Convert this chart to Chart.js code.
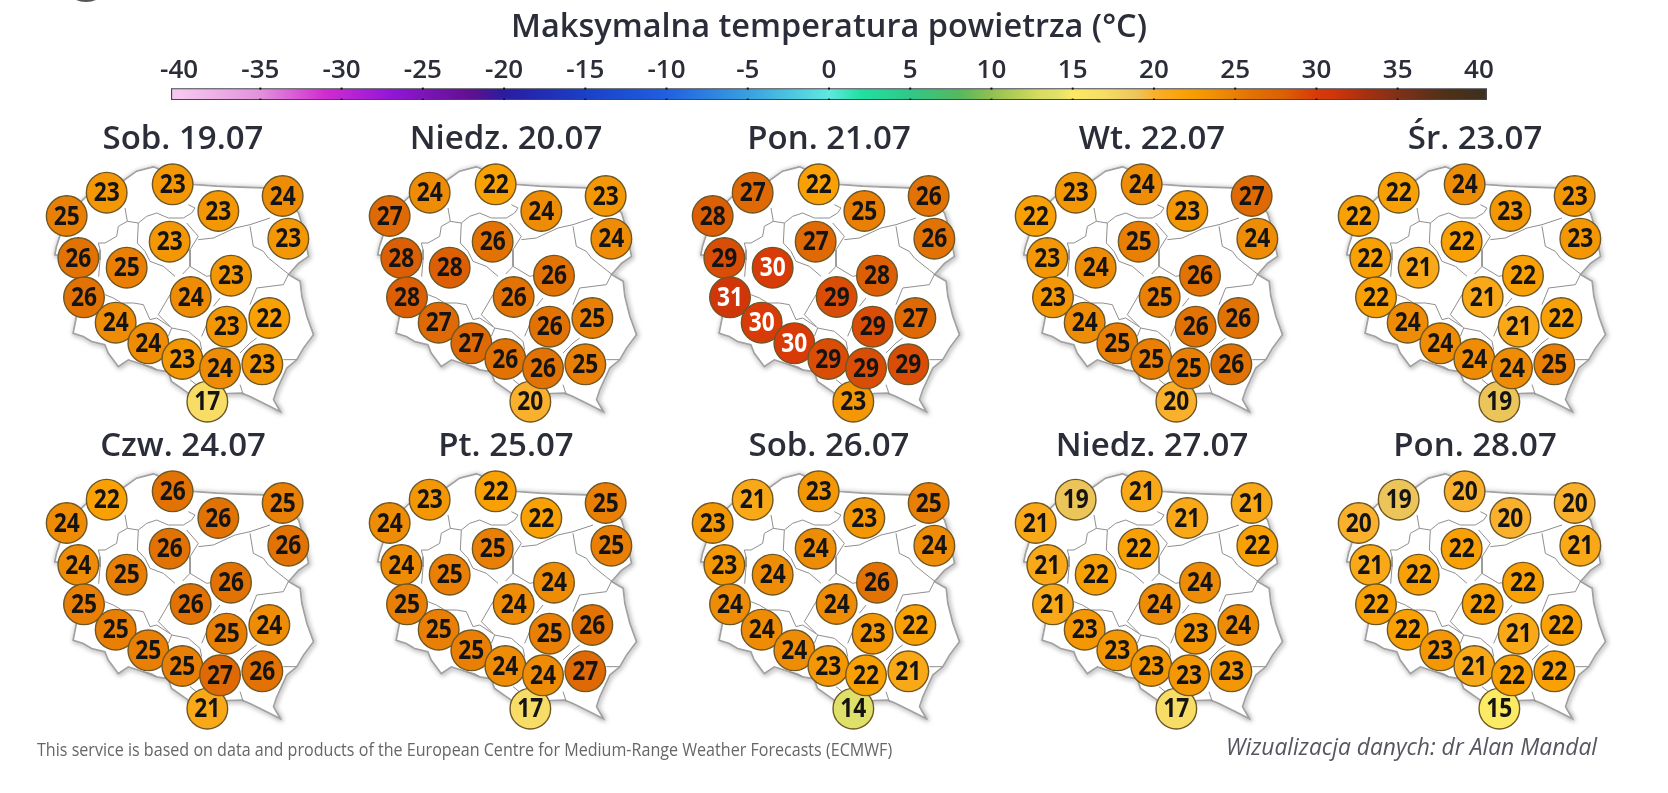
<!DOCTYPE html>
<html lang="pl">
<head>
<meta charset="utf-8">
<title>Maksymalna temperatura powietrza</title>
<script src="https://cdn.jsdelivr.net/npm/chart.js@4/dist/chart.umd.min.js"></script>
<style>
  html, body { margin: 0; padding: 0; background: #fff; overflow: hidden; }
  #page { position: relative; width: 1668px; height: 793px; overflow: hidden; }
  canvas { position: absolute; }
  .logo-stub { position: absolute; left: 72px; top: -12px; width: 28px; height: 14px; border-radius: 50%; background: #555; filter: blur(0.7px); }
  .note { position: absolute; white-space: nowrap; font-family: "Open Sans", sans-serif; transform-origin: left center; }
  #source { left: 37px; top: 736px; font-size: 18px; line-height: 26px; color: #666; transform: scaleX(0.894); }
  #author { left: 1226px; top: 729px; font-size: 24px; line-height: 34px; font-style: italic; color: #55565f; transform: scaleX(0.95); }
</style>
</head>
<body>
<div id="page">
  <div class="logo-stub"></div>
  <canvas id="scaleBar" width="1668" height="100" style="left:0;top:0"></canvas>
  <div id="source" class="note">This service is based on data and products of the European Centre for Medium-Range Weather Forecasts (ECMWF)</div>
  <div id="author" class="note">Wizualizacja danych: dr Alan Mandal</div>
</div>
<script>
const chartTitle = 'Maksymalna temperatura powietrza (°C)';
const scaleTicks = [-40, -35, -30, -25, -20, -15, -10, -5, 0, 5, 10, 15, 20, 25, 30, 35, 40];

// Colour scale of the legend, also used for the station circles
const stopTemps = [-40, -35, -31, -27, -22, -20, -15, -10, -5, 0, 2, 5, 8, 10, 13, 14, 15, 17, 19, 20, 22, 24, 26, 28, 30, 31, 33, 35, 38, 40];
const stopColors = ['#f6c8f0', '#e391dc', '#d02cd0', '#9416d8', '#5f1090', '#2a1ca0', '#1a40c8', '#2060e0', '#38a0e0', '#60e8e0', '#20e0a0', '#30c888', '#55b860', '#90c050', '#d8dc60', '#dfe06a', '#fbea63', '#f7dc66', '#ecc55a', '#f9b02c', '#f9a104', '#ef8c06', '#e27204', '#dc5f05', '#d83a08', '#d0360a', '#a83010', '#803018', '#503018', '#403020'];

const dayTitles = ['Sob. 19.07', 'Niedz. 20.07', 'Pon. 21.07', 'Wt. 22.07', 'Śr. 23.07', 'Czw. 24.07', 'Pt. 25.07', 'Sob. 26.07', 'Niedz. 27.07', 'Pon. 28.07'];

// Forecast per station, same order as stationX / stationY
const temps0719 = [17, 23, 23, 25, 23, 24, 23, 26, 23, 25, 23, 26, 24, 24, 24, 23, 22, 23, 24, 23];
const temps0720 = [20, 24, 22, 27, 24, 23, 24, 28, 26, 28, 26, 28, 26, 27, 27, 26, 25, 26, 26, 25];
const temps0721 = [23, 27, 22, 28, 25, 26, 26, 29, 27, 30, 28, 31, 29, 30, 30, 29, 27, 29, 29, 29];
const temps0722 = [20, 23, 24, 22, 23, 27, 24, 23, 25, 24, 26, 23, 25, 24, 25, 26, 26, 25, 25, 26];
const temps0723 = [19, 22, 24, 22, 23, 23, 23, 22, 22, 21, 22, 22, 21, 24, 24, 21, 22, 24, 24, 25];
const temps0724 = [21, 22, 26, 24, 26, 25, 26, 24, 26, 25, 26, 25, 26, 25, 25, 25, 24, 25, 27, 26];
const temps0725 = [17, 23, 22, 24, 22, 25, 25, 24, 25, 25, 24, 25, 24, 25, 25, 25, 26, 24, 24, 27];
const temps0726 = [14, 21, 23, 23, 23, 25, 24, 23, 24, 24, 26, 24, 24, 24, 24, 23, 22, 23, 22, 21];
const temps0727 = [17, 19, 21, 21, 21, 21, 22, 21, 22, 22, 24, 21, 24, 23, 23, 23, 24, 23, 23, 23];
const temps0728 = [15, 19, 20, 20, 20, 20, 21, 21, 22, 22, 22, 22, 22, 22, 23, 21, 22, 21, 22, 22];
const dayTemps = [temps0719, temps0720, temps0721, temps0722, temps0723, temps0724, temps0725, temps0726, temps0727, temps0728];

// Map grid: stations, country outline and region borders
const stationX = [622, 320, 518, 200, 655, 848, 865, 235, 509, 380, 693, 252, 572, 347, 445, 680, 808, 547, 660, 787];
const stationY = [905, 278, 253, 348, 333, 288, 416, 474, 425, 503, 527, 592, 591, 668, 730, 680, 654, 777, 805, 793];

const outlineX = [318, 375, 410, 460, 518, 580, 650, 720, 790, 850, 895, 905, 915, 925, 895, 865, 900, 905, 920, 940, 910, 890, 860, 830, 820, 840, 800, 750, 725, 683, 622, 565, 515, 505, 470, 430, 385, 355, 325, 315, 275, 250, 220, 230, 252, 235, 165, 170, 200, 260, 318];
const outlineY = [278, 239, 214, 201, 225, 254, 259, 262, 264, 288, 339, 372, 420, 469, 490, 524, 544, 589, 649, 704, 744, 779, 804, 869, 899, 934, 914, 889, 879, 880, 905, 879, 844, 815, 809, 794, 779, 799, 759, 734, 724, 709, 699, 649, 592, 474, 464, 439, 348, 289, 278];

const borderPaths = [
  [[375, 324], [382, 364], [355, 379], [350, 409], [315, 429], [295, 429], [300, 449], [300, 480], [296, 530]],
  [[382, 364], [415, 369], [440, 349], [470, 339], [505, 354], [550, 354], [575, 339], [585, 324], [565, 314]],
  [[560, 369], [595, 409], [570, 449], [570, 499], [548, 522]],
  [[415, 369], [412, 429], [435, 454], [450, 484], [490, 499], [525, 529]],
  [[570, 499], [620, 529], [660, 522]],
  [[595, 419], [640, 414], [705, 384], [750, 374], [810, 354]],
  [[750, 379], [760, 439], [790, 454], [805, 474], [850, 510], [868, 524]],
  [[865, 524], [850, 554], [770, 564], [750, 614]],
  [[770, 714], [750, 729], [720, 759]],
  [[890, 779], [850, 779]],
  [[510, 584], [475, 644], [515, 684], [565, 694], [600, 724], [605, 749]],
  [[605, 709], [620, 674]],
  [[315, 584], [340, 594], [365, 609], [400, 609], [430, 614], [450, 659], [470, 654], [510, 680]],
  [[515, 684], [505, 709]],
  [[660, 594], [640, 619]],
  [[430, 794], [455, 800], [470, 809]],
  [[720, 854], [730, 884]],
  [[570, 839], [590, 855]]
];

function hexToRgb(hex) {
  return [1, 3, 5].map(i => parseInt(hex.slice(i, i + 2), 16));
}

function tempColor(t) {
  for (let i = 1; i < stopTemps.length; i++) {
    if (t <= stopTemps[i]) {
      const f = (t - stopTemps[i - 1]) / (stopTemps[i] - stopTemps[i - 1]);
      const a = hexToRgb(stopColors[i - 1]);
      const b = hexToRgb(stopColors[i]);
      return `rgb(${a.map((v, k) => Math.round(v + (b[k] - v) * f)).join(',')})`;
    }
  }
  return stopColors[stopColors.length - 1];
}

function toPoints(xs, ys) {
  return xs.map((x, i) => ({ x, y: ys[i] }));
}

// Numbers inside the station circles
const stationLabels = {
  id: 'stationLabels',
  afterDatasetsDraw(chart) {
    const ctx = chart.ctx;
    const temps = chart.data.datasets[0].temps;
    ctx.save();
    ctx.font = '700 27px "Open Sans", sans-serif';
    ctx.textAlign = 'center';
    ctx.textBaseline = 'middle';
    chart.getDatasetMeta(0).data.forEach((pt, i) => {
      ctx.fillStyle = temps[i] >= 30 ? '#fff' : '#141414';
      ctx.fillText(String(temps[i]), pt.x, pt.y + 1, 26);
    });
    ctx.restore();
  }
};

// Soft drop shadow behind the country outline
const outlineShadow = {
  id: 'outlineShadow',
  beforeDatasetDraw(chart, args) {
    if (!chart.data.datasets[args.index].shadowed) return;
    const ctx = chart.ctx;
    ctx.save();
    ctx.shadowColor = 'rgba(0,0,0,0.55)';
    ctx.shadowBlur = 5;
    ctx.shadowOffsetX = 1;
    ctx.shadowOffsetY = 1;
  },
  afterDatasetDraw(chart, args) {
    if (chart.data.datasets[args.index].shadowed) chart.ctx.restore();
  }
};

// Small black marks on the edges of the legend bar
const scaleMarks = {
  id: 'scaleMarks',
  afterDatasetsDraw(chart) {
    const ctx = chart.ctx;
    const bar = chart.getDatasetMeta(0).data[0];
    ctx.save();
    ctx.fillStyle = '#111';
    scaleTicks.slice(1, -1).forEach(t => {
      const x = chart.scales.x.getPixelForValue(t);
      ctx.fillRect(x - 1, bar.y - 6.5, 2, 2);
      ctx.fillRect(x - 1, bar.y + 4.5, 2, 2);
    });
    ctx.restore();
  }
};

new Chart(document.getElementById('scaleBar'), {
  type: 'bar',
  data: {
    labels: ['°C'],
    datasets: [{
      data: [[-40.5, 40.5]],
      barThickness: 12,
      borderSkipped: false,
      borderWidth: 1.5,
      borderColor: '#45464c',
      backgroundColor(c) {
        const { chart } = c;
        if (!chart.chartArea) return '#fff';
        const xs = chart.scales.x;
        const g = chart.ctx.createLinearGradient(xs.getPixelForValue(-40), 0, xs.getPixelForValue(40), 0);
        stopTemps.forEach((t, i) => g.addColorStop((t + 40) / 80, stopColors[i]));
        return g;
      }
    }]
  },
  options: {
    indexAxis: 'y',
    responsive: false,
    animation: false,
    devicePixelRatio: 1,
    layout: { padding: { left: 171, right: 181 } },
    plugins: {
      legend: { display: false },
      tooltip: { enabled: false },
      title: {
        display: true,
        text: chartTitle,
        color: '#2b2e39',
        font: { family: '"Open Sans", sans-serif', size: 32.5, weight: '600' },
        padding: { top: 8, bottom: 6 }
      }
    },
    scales: {
      x: {
        position: 'top',
        min: -40.5,
        max: 40.5,
        grid: { display: false, drawTicks: false },
        border: { display: false },
        afterBuildTicks(s) { s.ticks = scaleTicks.map(value => ({ value })); },
        afterFit(s) { s.paddingLeft = 0; s.paddingRight = 0; },
        ticks: {
          color: '#2b2e39',
          maxRotation: 0,
          autoSkip: false,
          padding: 2,
          font: { family: '"Open Sans", sans-serif', size: 26, weight: '600' }
        }
      },
      y: { display: false }
    }
  },
  plugins: [scaleMarks]
});

// One small map chart per day
const page = document.getElementById('page');
dayTitles.forEach((title, d) => {
  const canvas = document.createElement('canvas');
  canvas.width = 366;
  canvas.height = 340;
  canvas.style.left = (d % 5) * 323 + 'px';
  canvas.style.top = 100 + Math.floor(d / 5) * 307 + 'px';
  page.appendChild(canvas);

  const temps = dayTemps[d];
  const lineDefaults = { showLine: true, pointRadius: 0, tension: 0, clip: false };
  const outlinePoints = toPoints(outlineX, outlineY);
  // First dataset is painted last, so stations end up on top
  const datasets = [
    {
      temps,
      data: toPoints(stationX, stationY),
      pointRadius: 20.3,
      pointBackgroundColor: temps.map(tempColor),
      pointBorderColor: '#6e5726',
      pointBorderWidth: 1.4,
      clip: false
    },
    ...borderPaths.map(path => ({
      ...lineDefaults,
      data: path.map(([x, y]) => ({ x, y })),
      borderColor: '#8f8f8f',
      borderWidth: 1
    })),
    { ...lineDefaults, data: outlinePoints, fill: 'shape', backgroundColor: '#fff', borderColor: '#a0a0a0', borderWidth: 1.3 },
    { ...lineDefaults, data: outlinePoints, shadowed: true, borderColor: '#a8a8a8', borderWidth: 2 }
  ];

  new Chart(canvas, {
    type: 'scatter',
    data: { datasets },
    options: {
      responsive: false,
      animation: false,
      devicePixelRatio: 1,
      layout: { autoPadding: false },
      plugins: {
        legend: { display: false },
        tooltip: { enabled: false },
        title: {
          display: true,
          text: title,
          color: '#2b2e39',
          font: { family: '"Open Sans", sans-serif', size: 33, weight: '600' },
          padding: { top: 19.4, bottom: 1 }
        }
      },
      scales: {
        x: { type: 'linear', display: false, min: 0, max: 1098 },
        y: { type: 'linear', display: false, min: 180, max: 1020, reverse: true }
      }
    },
    plugins: [outlineShadow, stationLabels]
  });
});
</script>
</body>
</html>
